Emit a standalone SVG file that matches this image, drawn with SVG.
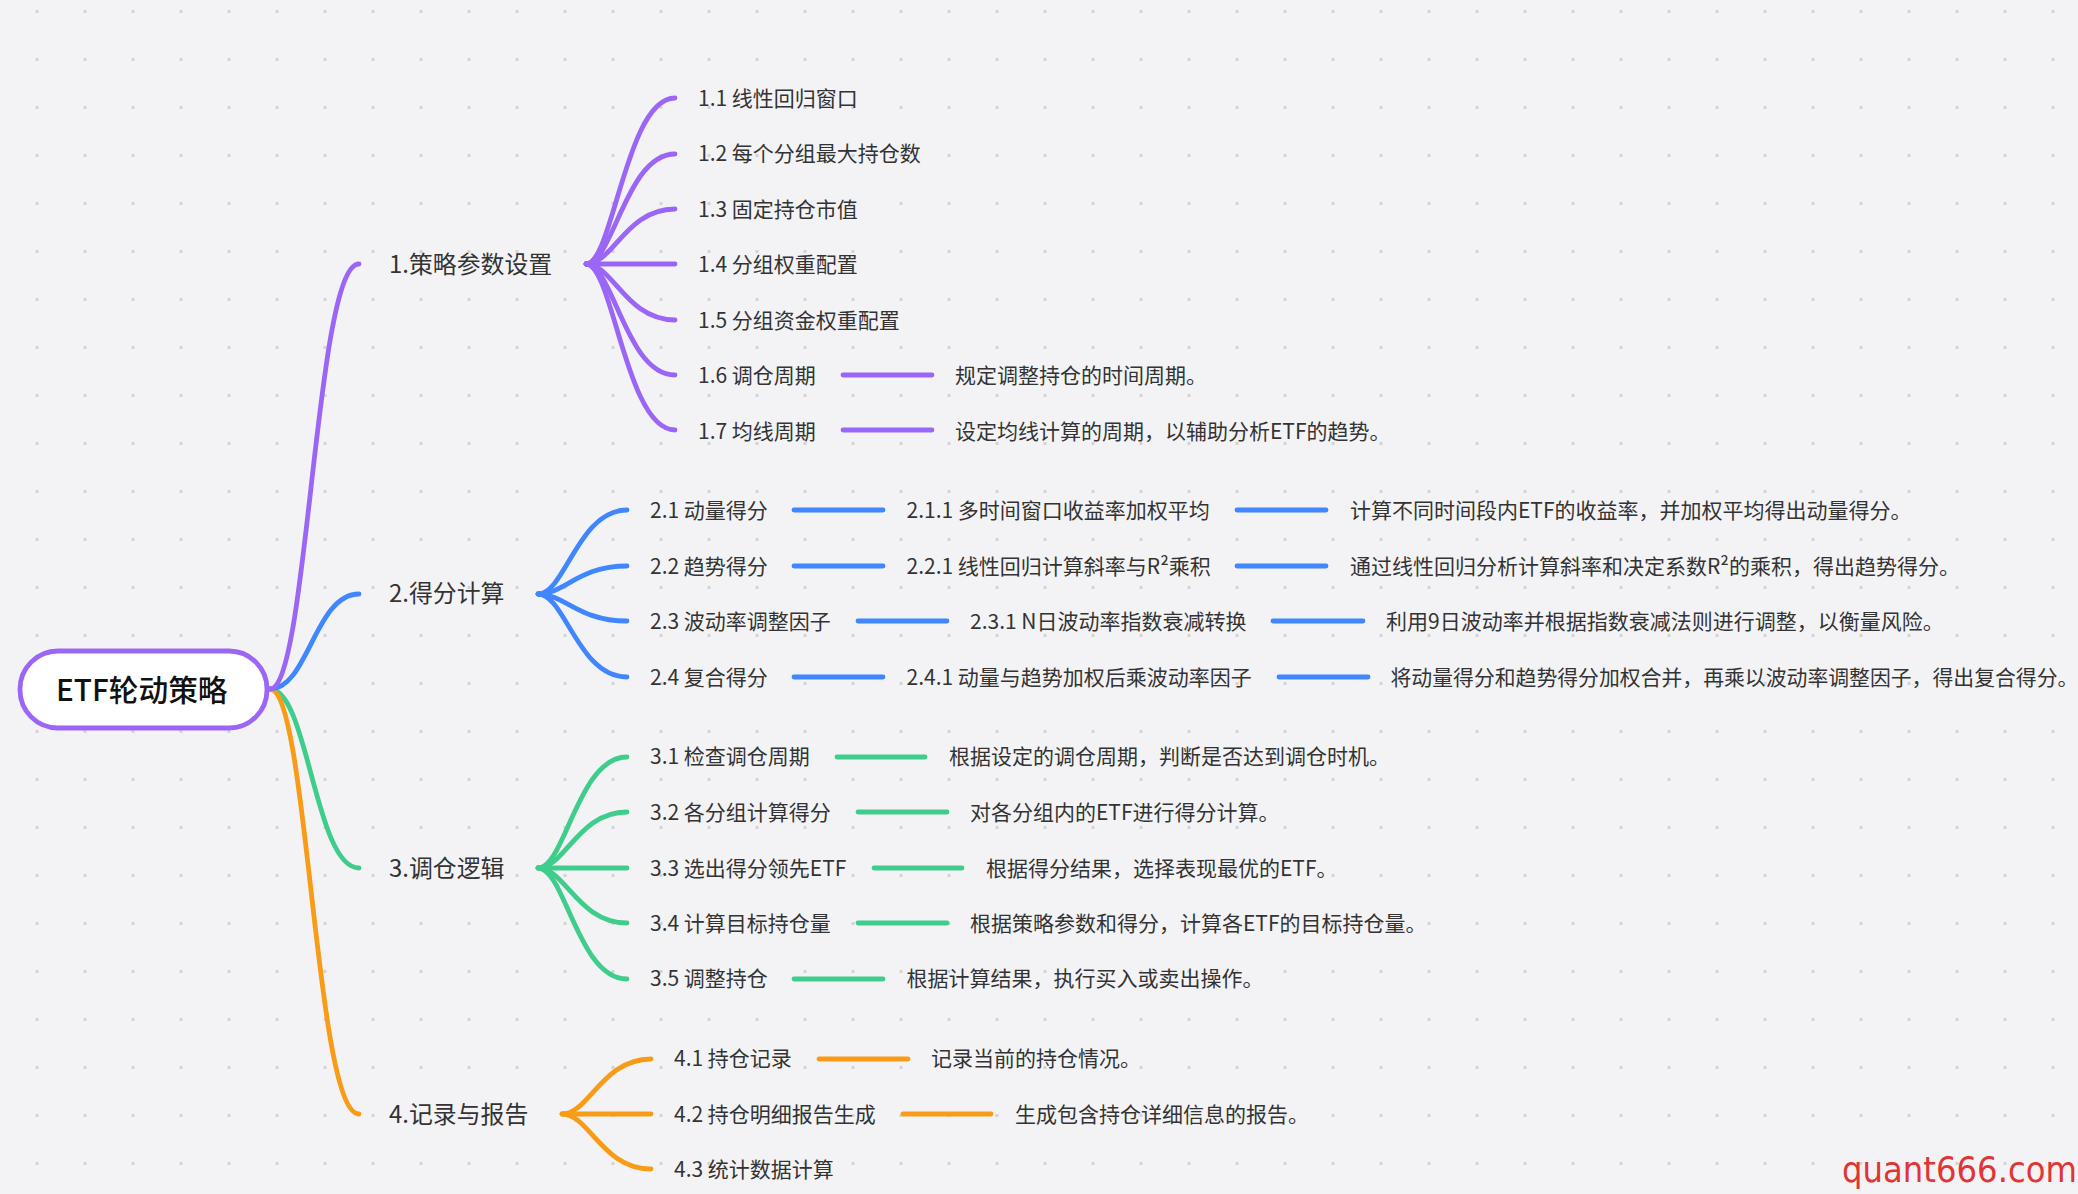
<svg xmlns="http://www.w3.org/2000/svg" width="2078" height="1194" viewBox="0 0 2078 1194">
<style>
text{font-family:"Noto Sans CJK SC","Noto Sans",sans-serif;fill:#333}
.t{font-size:21px}
.m{font-size:23.9px}
.r{font-size:29.7px;font-weight:500;fill:#111}
.w{font-family:"DejaVu Sans",sans-serif;font-size:35px;fill:#e03535}
#connectors path{fill:none;stroke-width:4.8;stroke-linecap:round}
.p{stroke:#9b66f5}.b{stroke:#3f86ff}.g{stroke:#3fcd8b}.o{stroke:#f89c17}
</style>
<defs>
<pattern id="dots" patternUnits="userSpaceOnUse" x="35.5" y="10" width="48" height="48"><rect width="3" height="3" fill="#d3d3d6"/></pattern>
</defs>
<rect width="2078" height="1194" fill="#f3f3f6"/>
<rect width="2078" height="1194" fill="url(#dots)"/>
<g id="connectors">
<path class="g" d="M270 689C308 689 315 868 359 868"/>
<path class="o" d="M270 689C308 689 315 1114 359 1114"/>
<path class="b" d="M270 689C308 689 315 594 359 594"/>
<path class="p" d="M270 689C308 689 315 264 359 264"/>
<path class="p" d="M586 264C613 264 626 98 675 98"/>
<path class="p" d="M586 264C613 264 626 154 675 154"/>
<path class="p" d="M586 264C613 264 626 209 675 209"/>
<path class="p" d="M586 264H675"/>
<path class="p" d="M586 264C613 264 626 320 675 320"/>
<path class="p" d="M586 264C613 264 626 375 675 375"/>
<path class="p" d="M586 264C613 264 626 430 675 430"/>
<path class="p" d="M843 375H932"/>
<path class="p" d="M843 430H932"/>
<path class="b" d="M538 594C565 594 578 510 627 510"/>
<path class="b" d="M538 594C565 594 578 566 627 566"/>
<path class="b" d="M538 594C565 594 578 621 627 621"/>
<path class="b" d="M538 594C565 594 578 677 627 677"/>
<path class="b" d="M794 510H883"/><path class="b" d="M1237 510H1326"/>
<path class="b" d="M794 566H883"/><path class="b" d="M1237 566H1326"/>
<path class="b" d="M858 621H947"/><path class="b" d="M1273 621H1363"/>
<path class="b" d="M794 677H883"/><path class="b" d="M1279 677H1368"/>
<path class="g" d="M538 868C565 868 578 757 627 757"/>
<path class="g" d="M538 868C565 868 578 812 627 812"/>
<path class="g" d="M538 868H627"/>
<path class="g" d="M538 868C565 868 578 923 627 923"/>
<path class="g" d="M538 868C565 868 578 979 627 979"/>
<path class="g" d="M837 757H925"/>
<path class="g" d="M858 812H947"/>
<path class="g" d="M874 868H962"/>
<path class="g" d="M858 923H947"/>
<path class="g" d="M794 979H883"/>
<path class="o" d="M562 1114C589 1114 602 1059 651 1059"/>
<path class="o" d="M562 1114H651"/>
<path class="o" d="M562 1114C589 1114 602 1169 651 1169"/>
<path class="o" d="M819 1059H908"/>
<path class="o" d="M903 1114H991"/>
</g>
<g id="root"><rect x="20" y="651" width="247" height="77" rx="38" fill="#fff" stroke="#9b66f5" stroke-width="4.8"/><text class="r" x="56" y="700.5">ETF轮动策略</text></g>
<g id="n1"><text class="m" x="389" y="272.5">1.策略参数设置</text></g>
<g id="n2"><text class="m" x="389" y="602">2.得分计算</text></g>
<g id="n3"><text class="m" x="389" y="876.5">3.调仓逻辑</text></g>
<g id="n4"><text class="m" x="389" y="1122.5">4.记录与报告</text></g>
<g id="n1-1"><text class="t" x="698" y="105.5">1.1 线性回归窗口</text></g>
<g id="n1-2"><text class="t" x="698" y="161">1.2 每个分组最大持仓数</text></g>
<g id="n1-3"><text class="t" x="698" y="216.5">1.3 固定持仓市值</text></g>
<g id="n1-4"><text class="t" x="698" y="272">1.4 分组权重配置</text></g>
<g id="n1-5"><text class="t" x="698" y="327.5">1.5 分组资金权重配置</text></g>
<g id="n1-6"><text class="t" x="698" y="382.5">1.6 调仓周期</text></g>
<g id="n1-6-1"><text class="t" x="955" y="382.5">规定调整持仓的时间周期。</text></g>
<g id="n1-7"><text class="t" x="698" y="438.5">1.7 均线周期</text></g>
<g id="n1-7-1"><text class="t" x="955" y="438.5">设定均线计算的周期，以辅助分析ETF的趋势。</text></g>
<g id="n2-1"><text class="t" x="650" y="518">2.1 动量得分</text></g>
<g id="n2-1-1"><text class="t" x="906.5" y="518">2.1.1 多时间窗口收益率加权平均</text></g>
<g id="n2-1-2"><text class="t" x="1350" y="518">计算不同时间段内ETF的收益率，并加权平均得出动量得分。</text></g>
<g id="n2-2"><text class="t" x="650" y="574">2.2 趋势得分</text></g>
<g id="n2-2-1"><text class="t" x="906.5" y="574">2.2.1 线性回归计算斜率与R²乘积</text></g>
<g id="n2-2-2"><text class="t" x="1350" y="574">通过线性回归分析计算斜率和决定系数R²的乘积，得出趋势得分。</text></g>
<g id="n2-3"><text class="t" x="650" y="629">2.3 波动率调整因子</text></g>
<g id="n2-3-1"><text class="t" x="970" y="629">2.3.1 N日波动率指数衰减转换</text></g>
<g id="n2-3-2"><text class="t" x="1386" y="629">利用9日波动率并根据指数衰减法则进行调整，以衡量风险。</text></g>
<g id="n2-4"><text class="t" x="650" y="684.5">2.4 复合得分</text></g>
<g id="n2-4-1"><text class="t" x="906.5" y="684.5">2.4.1 动量与趋势加权后乘波动率因子</text></g>
<g id="n2-4-2"><text class="t" x="1390.5" y="684.5" style="font-size:20.85px">将动量得分和趋势得分加权合并，再乘以波动率调整因子，得出复合得分。</text></g>
<g id="n3-1"><text class="t" x="650" y="764">3.1 检查调仓周期</text></g>
<g id="n3-1-1"><text class="t" x="949" y="764">根据设定的调仓周期，判断是否达到调仓时机。</text></g>
<g id="n3-2"><text class="t" x="650" y="820">3.2 各分组计算得分</text></g>
<g id="n3-2-1"><text class="t" x="970" y="820">对各分组内的ETF进行得分计算。</text></g>
<g id="n3-3"><text class="t" x="650" y="875.5">3.3 选出得分领先ETF</text></g>
<g id="n3-3-1"><text class="t" x="986" y="875.5">根据得分结果，选择表现最优的ETF。</text></g>
<g id="n3-4"><text class="t" x="650" y="931">3.4 计算目标持仓量</text></g>
<g id="n3-4-1"><text class="t" x="970" y="931">根据策略参数和得分，计算各ETF的目标持仓量。</text></g>
<g id="n3-5"><text class="t" x="650" y="986">3.5 调整持仓</text></g>
<g id="n3-5-1"><text class="t" x="906.5" y="986">根据计算结果，执行买入或卖出操作。</text></g>
<g id="n4-1"><text class="t" x="674" y="1066">4.1 持仓记录</text></g>
<g id="n4-1-1"><text class="t" x="931" y="1066">记录当前的持仓情况。</text></g>
<g id="n4-2"><text class="t" x="674" y="1122">4.2 持仓明细报告生成</text></g>
<g id="n4-2-1"><text class="t" x="1015" y="1122">生成包含持仓详细信息的报告。</text></g>
<g id="n4-3"><text class="t" x="674" y="1177">4.3 统计数据计算</text></g>
<text class="w" x="1842" y="1182" textLength="235" lengthAdjust="spacingAndGlyphs">quant666.com</text>
</svg>
